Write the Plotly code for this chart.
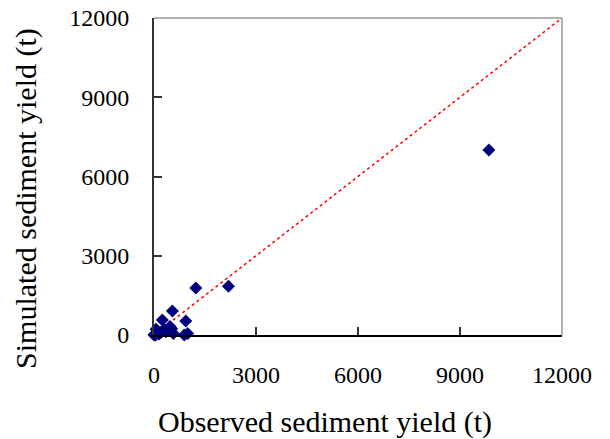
import plotly.graph_objects as go

observed = [9850, 2190, 1230, 540, 245, 935, 470, 420, 60, 50, 350, 570, 890, 990, 110, 20, 0, 300, 200, 150, 520]
simulated = [7000, 1850, 1780, 905, 566, 530, 320, 190, 215, 0, 125, 60, 0, 60, 120, 30, 0, 210, 90, 40, 240]

line_x = [0, 12000]
line_y = [0, 12000]

ticks = [0, 3000, 6000, 9000, 12000]
tick_text = ["0", "3000", "6000", "9000", "12000"]

FONT = "Liberation Serif, Times New Roman, serif"

fig = go.Figure()
fig.add_trace(go.Scatter(x=line_x, y=line_y, mode="lines",
                         line=dict(color="#ff0000", width=1.5, dash="dot"),
                         showlegend=False, hoverinfo="skip"))
fig.add_trace(go.Scatter(x=observed, y=simulated, mode="markers",
                         marker=dict(symbol="diamond", size=10, color="#00007f",
                                     line=dict(width=0)),
                         cliponaxis=False, showlegend=False))

fig.update_layout(
    width=610, height=439,
    margin=dict(l=154, r=48, t=18, b=104, autoexpand=False),
    paper_bgcolor="white", plot_bgcolor="white",
    font=dict(family=FONT, color="black"),
    xaxis=dict(range=[0, 12000], tickvals=ticks, ticktext=tick_text,
               ticks="inside", ticklen=8, tickwidth=1.5, tickcolor="#333",
               showline=True, linecolor="black", linewidth=2, mirror=False,
               showgrid=False, zeroline=False, tickfont=dict(size=24, family=FONT),
               ticklabelstandoff=17, automargin=False),
    yaxis=dict(range=[0, 12000], tickvals=ticks, ticktext=tick_text,
               ticks="inside", ticklen=8, tickwidth=1.5, tickcolor="#333",
               showline=True, linecolor="#333", linewidth=2, mirror=False,
               showgrid=False, zeroline=False, tickfont=dict(size=24, family=FONT),
               ticklabelstandoff=18, automargin=False),
    shapes=[
        dict(type="line", xref="paper", yref="paper", x0=0, x1=1, y0=1, y1=1,
             line=dict(color="#999", width=1.5)),
        dict(type="line", xref="paper", yref="paper", x0=1, x1=1, y0=0, y1=1,
             line=dict(color="#999", width=1.5)),
    ],
    annotations=[
        dict(text="Observed sediment yield (t)", xref="paper", yref="paper",
             x=0.418, y=-0.274, xanchor="center", yanchor="middle",
             showarrow=False, font=dict(size=30, family=FONT)),
        dict(text="Simulated sediment yield (t)", xref="paper", yref="paper",
             x=-0.314, y=0.432, xanchor="center", yanchor="middle", textangle=-90,
             showarrow=False, font=dict(size=30, family=FONT)),
    ],
)

fig.write_html("out.html", config={"displayModeBar": False},
               post_script="document.body.style.margin='0px';document.body.style.overflow='hidden';")
